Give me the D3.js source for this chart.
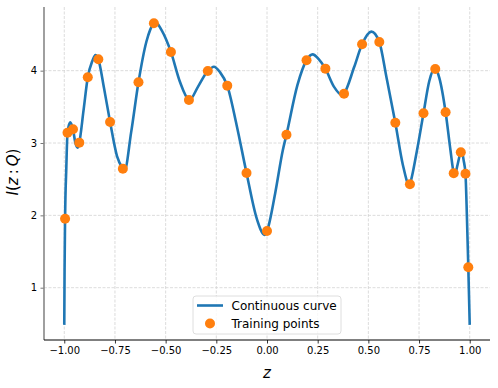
<!DOCTYPE html>
<html>
<head>
<meta charset="utf-8">
<script src="https://cdn.jsdelivr.net/npm/d3@7"></script>
<style>
	body { margin: 0; background: #fff; }
	text { font-family: "DejaVu Sans", sans-serif; }
</style>
</head>
<body>
<div id="graph"></div>
<script>

// training points
var trainX = [-0.996, -0.984, -0.957, -0.926, -0.884, -0.832, -0.774, -0.711, -0.634, -0.558, -0.474, -0.385,
	-0.292, -0.196, -0.101, 0.000, 0.096, 0.195, 0.288, 0.380, 0.469, 0.554, 0.633, 0.705, 0.772, 0.830,
	0.881, 0.921, 0.956, 0.979, 0.993];
var trainY = [1.954, 3.143, 3.190, 3.005, 3.909, 4.158, 3.291, 2.645, 3.840, 4.655, 4.259, 3.595,
	3.996, 3.793, 2.586, 1.784, 3.115, 4.144, 4.028, 3.682, 4.365, 4.397, 3.281, 2.430, 3.411, 4.024,
	3.425, 2.581, 2.872, 2.576, 1.282];

// continuous curve samples (training points plus turning points)
var curveX = [-1.000, -0.9985, -0.996, -0.990, -0.984, -0.971, -0.957, -0.945, -0.934, -0.926, -0.905, -0.884,
	-0.862, -0.846, -0.832, -0.804, -0.774, -0.740, -0.711, -0.703, -0.670, -0.634, -0.595, -0.558, -0.550,
	-0.520, -0.474, -0.430, -0.385, -0.383, -0.340, -0.292, -0.262, -0.232, -0.196, -0.150, -0.101, -0.050,
	-0.012, 0.000, 0.040, 0.078, 0.096, 0.150, 0.195, 0.225, 0.255, 0.288, 0.330, 0.372, 0.380, 0.430,
	0.469, 0.515, 0.554, 0.590, 0.633, 0.670, 0.703, 0.705, 0.740, 0.772, 0.800, 0.828, 0.850, 0.881,
	0.905, 0.921, 0.925, 0.940, 0.956, 0.961, 0.970, 0.979, 0.986, 0.993, 1.000];
var curveY = [0.486, 1.250, 1.954, 2.650, 3.143, 3.285, 3.190, 3.000, 2.935, 3.005, 3.450, 3.909,
	4.130, 4.217, 4.158, 3.760, 3.291, 2.820, 2.645, 2.615, 3.150, 3.840, 4.400, 4.655, 4.671,
	4.560, 4.259, 3.850, 3.595, 3.593, 3.780, 3.996, 4.055, 3.980, 3.793, 3.250, 2.586, 1.950,
	1.729, 1.784, 2.300, 2.900, 3.115, 3.800, 4.144, 4.225, 4.160, 4.028, 3.780, 3.660, 3.682, 4.050,
	4.365, 4.540, 4.397, 3.900, 3.281, 2.700, 2.415, 2.430, 2.900, 3.411, 3.850, 4.035, 3.900, 3.425,
	2.900, 2.581, 2.545, 2.700, 2.872, 2.880, 2.760, 2.576, 2.000, 1.282, 0.486];

var xTicks = [-1, -0.75, -0.5, -0.25, 0, 0.25, 0.5, 0.75, 1];
var xTickLabels = ["\u22121.00", "\u22120.75", "\u22120.50", "\u22120.25", "0.00", "0.25", "0.50", "0.75", "1.00"];
var yTicks = [1, 2, 3, 4];
var yTickLabels = ["1", "2", "3", "4"];

var legendLabels = ["Continuous curve", "Training points"];

var svgWidth = 498;
var svgHeight = 388;
var blue = "#1f77b4";
var orange = "#ff7f0e";

function createSvg(parent, height, width) {
	return d3.select(parent).append('svg').attr('height', height).attr('width', width);
}

var svg = createSvg('#graph', svgHeight, svgWidth);

var x = d3.scaleLinear().domain([-1.1, 1.1]).range([44, 490]);
var y = d3.scaleLinear().domain([0.277, 4.88]).range([340, 7]);

//grid
svg.append('g').selectAll('line')
	.data(xTicks)
	.enter()
	.append('line')
	.attr('x1', function (d) { return x(d); })
	.attr('x2', function (d) { return x(d); })
	.attr('y1', y.range()[1])
	.attr('y2', y.range()[0])
	.attr('stroke', '#d3d3d3')
	.attr('stroke-width', 0.8)
	.attr('stroke-dasharray', '3,1.5');

svg.append('g').selectAll('line')
	.data(yTicks)
	.enter()
	.append('line')
	.attr('x1', x.range()[0])
	.attr('x2', x.range()[1])
	.attr('y1', function (d) { return y(d); })
	.attr('y2', function (d) { return y(d); })
	.attr('stroke', '#d3d3d3')
	.attr('stroke-width', 0.8)
	.attr('stroke-dasharray', '3,1.5');

//axes
var xAxis = d3.axisBottom(x)
	.tickValues(xTicks)
	.tickSize(3.5)
	.tickPadding(3.5)
	.tickFormat(function (d, i) { return xTickLabels[i]; });

var yAxis = d3.axisLeft(y)
	.tickValues(yTicks)
	.tickSize(3.5)
	.tickPadding(3.5)
	.tickFormat(function (d, i) { return yTickLabels[i]; });

var gx = svg.append('g').attr('transform', 'translate(0,' + y.range()[0] + ')').call(xAxis);
gx.select('.domain').remove();
gx.selectAll('line').attr('stroke', '#000').attr('stroke-width', 0.8);
gx.selectAll('text').attr('font-size', 10).attr('fill', '#000').style('font-family', 'DejaVu Sans');

var gy = svg.append('g').attr('transform', 'translate(' + x.range()[0] + ',0)').call(yAxis);
gy.select('.domain').remove();
gy.selectAll('line').attr('stroke', '#555').attr('stroke-width', 0.8);
gy.selectAll('text').attr('font-size', 10).attr('fill', '#000').style('font-family', 'DejaVu Sans');

// spines: left grey, bottom black
svg.append('line')
	.attr('x1', x.range()[0]).attr('x2', x.range()[0])
	.attr('y1', y.range()[1]).attr('y2', y.range()[0])
	.attr('stroke', '#888').attr('stroke-width', 1.6);
svg.append('line')
	.attr('x1', x.range()[0]).attr('x2', x.range()[1])
	.attr('y1', y.range()[0]).attr('y2', y.range()[0])
	.attr('stroke', '#000').attr('stroke-width', 1);

//curve
var line = d3.line()
	.x(function (d) { return x(d[0]); })
	.y(function (d) { return y(d[1]); })
	.curve(d3.curveMonotoneX);

svg.append('path')
	.datum(d3.zip(curveX, curveY))
	.attr('d', line)
	.attr('fill', 'none')
	.attr('stroke', blue)
	.attr('stroke-width', 2.6)
	.attr('stroke-linejoin', 'round')
	.attr('stroke-linecap', 'butt');

//training points
svg.append('g').selectAll('circle')
	.data(d3.zip(trainX, trainY))
	.enter()
	.append('circle')
	.attr('cx', function (d) { return x(d[0]); })
	.attr('cy', function (d) { return y(d[1]); })
	.attr('r', 5)
	.attr('fill', orange);

//axis labels
svg.append('text')
	.attr('x', x(0))
	.attr('y', 378)
	.attr('text-anchor', 'middle')
	.attr('font-size', 15)
	.attr('font-style', 'italic')
	.text('z');

var ylab = svg.append('text')
	.attr('transform', 'translate(18,' + 172 + ') rotate(-90)')
	.attr('text-anchor', 'middle')
	.attr('font-size', 15);
ylab.append('tspan').attr('font-style', 'italic').text('I');
ylab.append('tspan').text('(');
ylab.append('tspan').attr('font-style', 'italic').text('z');
ylab.append('tspan').text('\u2009:\u2009');
ylab.append('tspan').attr('font-style', 'italic').text('Q');
ylab.append('tspan').text(')');

//legend
var legend = svg.append('g').attr('transform', 'translate(193,296)');
legend.append('rect')
	.attr('width', 148)
	.attr('height', 38)
	.attr('rx', 3)
	.attr('fill', '#fff')
	.attr('fill-opacity', 0.8)
	.attr('stroke', '#d5d5d5')
	.attr('stroke-width', 0.8);
legend.append('line')
	.attr('x1', 4).attr('x2', 30)
	.attr('y1', 9.5).attr('y2', 9.5)
	.attr('stroke', blue)
	.attr('stroke-width', 2.6);
legend.append('circle')
	.attr('cx', 17).attr('cy', 27.5)
	.attr('r', 5)
	.attr('fill', orange);
legend.selectAll('text.lab')
	.data(legendLabels)
	.enter()
	.append('text')
	.attr('class', 'lab')
	.attr('x', 38.5)
	.attr('y', function (d, i) { return 13.8 + i * 18; })
	.attr('font-size', 12)
	.text(function (d) { return d; });

</script>
</body>
</html>
